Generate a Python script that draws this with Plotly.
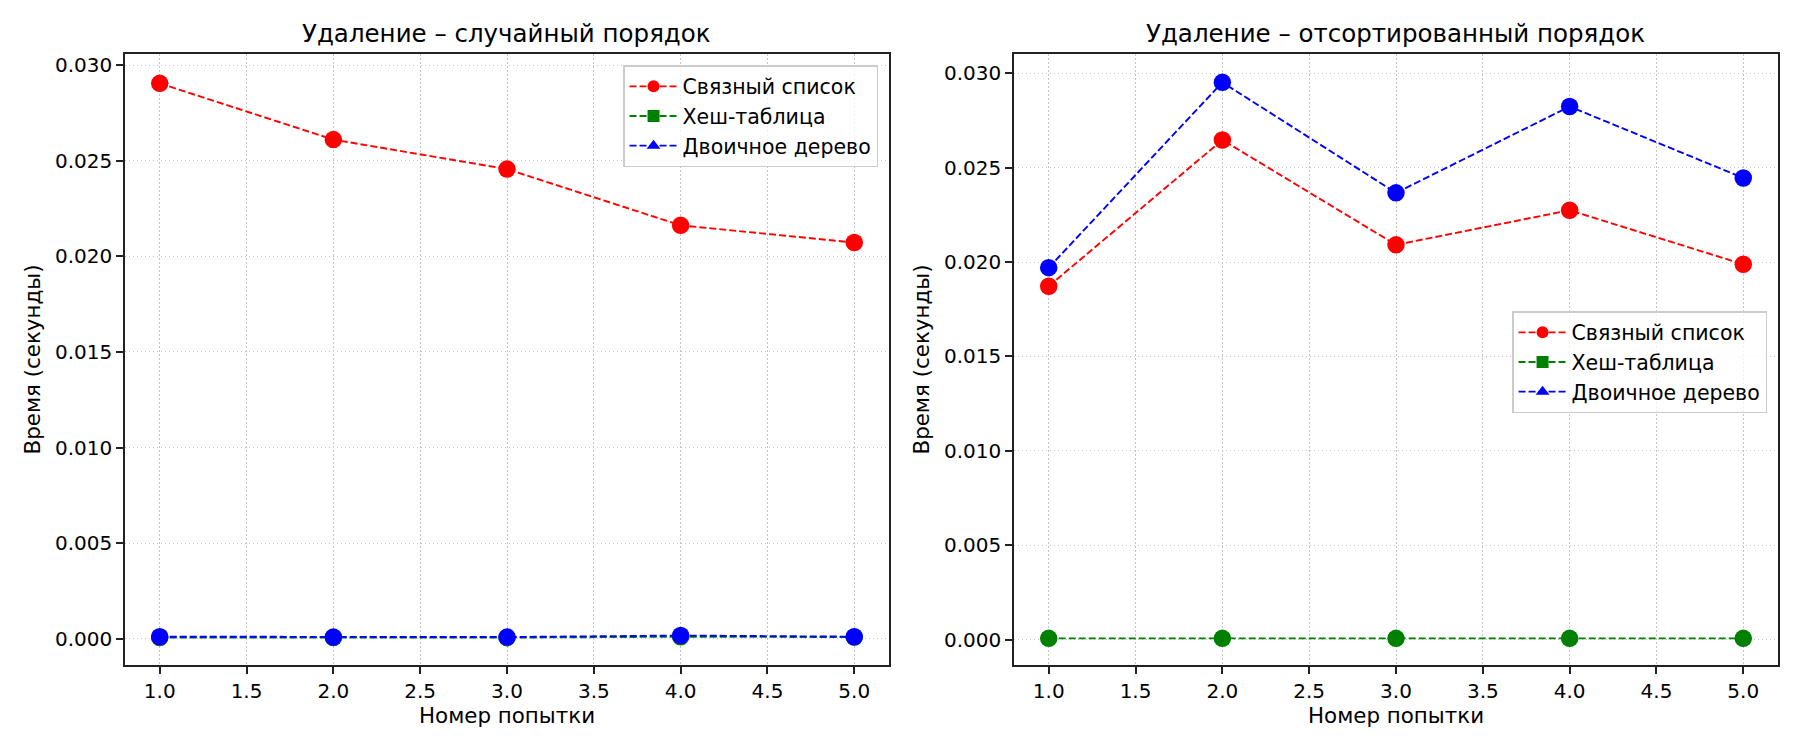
import plotly.graph_objects as go

attempts = [1, 2, 3, 4, 5]

# random order
rand_linked = [0.02904, 0.02610, 0.02456, 0.02162, 0.02072]
rand_hash = [0.00008, 0.00008, 0.00007, 0.00012, 0.00010]
rand_tree = [0.00012, 0.00010, 0.00010, 0.00018, 0.00012]

# sorted order
sort_linked = [0.01872, 0.02646, 0.02091, 0.02274, 0.01988]
sort_hash = [0.00008, 0.00008, 0.00008, 0.00008, 0.00008]
sort_tree = [0.01970, 0.02951, 0.02366, 0.02823, 0.02445]

names = ["Связный список", "Хеш-таблица", "Двоичное дерево"]
colors = ["red", "green", "blue"]
symbols = ["circle", "square", "triangle-up"]
titles = ["Удаление – случайный порядок", "Удаление – отсортированный порядок"]

FONT = "DejaVu Sans"
FS = 20        # tick labels
LFS = 21.4     # axis labels
dash = "7px,3px"

fig = go.Figure()


def add_panel(series, xa, ya, legend_name):
    # lines with the legend symbols first, round markers drawn on top
    for vals, name, col, sym in zip(series, names, colors, symbols):
        fig.add_trace(go.Scatter(
            x=attempts, y=vals, name=name, mode="lines+markers",
            line=dict(color=col, width=1.9, dash=dash),
            marker=dict(symbol=sym, size=12, color=col),
            xaxis=xa, yaxis=ya, legend=legend_name, showlegend=True))
        fig.add_trace(go.Scatter(
            x=attempts, y=vals, mode="markers",
            marker=dict(symbol="circle", size=17.5, color=col),
            xaxis=xa, yaxis=ya, showlegend=False, hoverinfo="skip"))


add_panel([rand_linked, rand_hash, rand_tree], "x", "y", "legend")
add_panel([sort_linked, sort_hash, sort_tree], "x2", "y2", "legend2")

axis_common = dict(
    showline=True, mirror=True, linecolor="#222222", linewidth=1.6,
    ticks="outside", ticklen=7, tickwidth=1.6, tickcolor="#222222",
    showgrid=True, gridcolor="#c4c4c4", griddash="1.5px,2.5px", gridwidth=1.3,
    zeroline=False, tickfont=dict(family=FONT, size=FS, color="black"),
)

xa = dict(axis_common, range=[0.8, 5.2], dtick=0.5, tickformat=".1f",
          title=dict(text="Номер попытки", font=dict(family=FONT, size=LFS, color="black"), standoff=6))
ya = dict(axis_common, dtick=0.005, tickformat=".3f",
          title=dict(text="Время (секунды)", font=dict(family=FONT, size=LFS, color="black"), standoff=8))

leg_common = dict(xanchor="right", yanchor="top", itemwidth=48,
                  bgcolor="rgba(255,255,255,0.8)", bordercolor="#cccccc", borderwidth=1.5,
                  font=dict(family=FONT, size=20.5, color="black"))

fig.update_layout(
    width=1800, height=750,
    margin=dict(l=0, r=0, t=0, b=0),
    paper_bgcolor="white", plot_bgcolor="white",
    font=dict(family=FONT, size=FS, color="black"),
    xaxis=dict(xa, domain=[0.06944, 0.49389], anchor="y"),
    yaxis=dict(ya, domain=[0.11333, 0.928], range=[-0.00136, 0.030575], anchor="x"),
    xaxis2=dict(xa, domain=[0.56333, 0.98778], anchor="y2"),
    yaxis2=dict(ya, domain=[0.11333, 0.928], range=[-0.00133, 0.03101], anchor="x2"),
    legend=dict(leg_common, x=0.4878, y=0.9133),
    legend2=dict(leg_common, x=0.9817, y=0.5853),
    showlegend=True,
)

for t, (x0, x1) in zip(titles, [(0.06944, 0.49389), (0.56333, 0.98778)]):
    fig.add_annotation(text=t, x=(x0 + x1) / 2, y=1 - 33 / 750, xref="paper", yref="paper",
                       xanchor="center", yanchor="middle", showarrow=False,
                       font=dict(family=FONT, size=24.5, color="black"))

fig.write_html("out.html", config={"displayModeBar": False},
               post_script="document.body.style.margin='0';")
